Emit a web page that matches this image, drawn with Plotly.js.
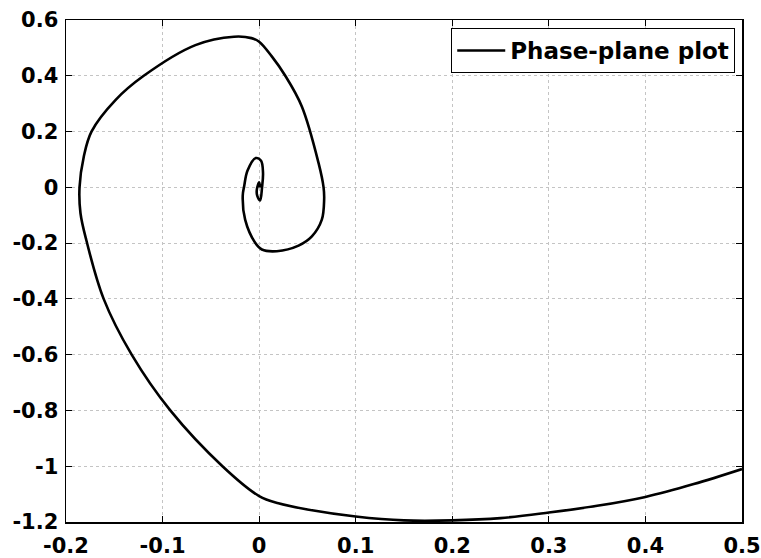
<!DOCTYPE html>
<html>
<head>
<meta charset="utf-8">
<script src="https://cdn.plot.ly/plotly-3.0.1.min.js"></script>
<style>html,body{margin:0;padding:0;background:#fff;}#chart{width:761px;height:558px;}</style>
</head>
<body>
<div id="chart"></div>
<script>
// Phase-plane trajectory
const phaseX = [0.5, 0.45, 0.4, 0.35, 0.3, 0.25, 0.2, 0.15, 0.1, 0.05, 0.02, 0.0, -0.038, -0.092, -0.132, -0.161, -0.179, -0.185, -0.186, -0.1816, -0.1736, -0.1488, -0.1195, -0.066, -0.026, -0.008, 0.0, 0.0131, 0.0269, 0.0442, 0.0615, 0.0667, 0.0673, 0.0649, 0.0546, 0.0408, 0.0183, 0.0028, -0.0041, -0.0145, -0.017, -0.0155, -0.012, -0.0034, 0.002, 0.004, 0.003, 0.001, -0.002, -0.0024, 0.0, 0.001];
const phaseY = [-1.01, -1.064, -1.11, -1.142, -1.166, -1.186, -1.194, -1.194, -1.18, -1.155, -1.133, -1.107, -1.0, -0.8, -0.6, -0.4, -0.189, -0.093, 0.0, 0.110, 0.2, 0.313, 0.4, 0.510, 0.540, 0.535, 0.522, 0.4695, 0.401, 0.290, 0.0875, 0.0, -0.044, -0.116, -0.176, -0.209, -0.229, -0.223, -0.199, -0.116, -0.03, 0.004, 0.06, 0.105, 0.095, 0.052, 0.0, -0.047, -0.03, -0.008, 0.018, 0.0];
const seriesName = "Phase-plane plot";

const xTickVals = [-0.2, -0.1, 0, 0.1, 0.2, 0.3, 0.4, 0.5];
const xTickText = ["-0.2", "-0.1", "0", "0.1", "0.2", "0.3", "0.4", "0.5"];
const yTickVals = [-1.2, -1, -0.8, -0.6, -0.4, -0.2, 0, 0.2, 0.4, 0.6];
const yTickText = ["-1.2", "-1", "-0.8", "-0.6", "-0.4", "-0.2", "0", "0.2", "0.4", "0.6"];

const tickFont = {family: "DejaVu Sans", size: 21, color: "#000", weight: "bold"};

const axisCommon = {
  showline: true, linecolor: "#000", linewidth: 1.5, mirror: "ticks",
  ticks: "inside", ticklen: 6, tickwidth: 1.2, tickcolor: "#000",
  showgrid: true, gridcolor: "#c4c4c4", griddash: "dot", gridwidth: 1,
  zeroline: false, tickfont: tickFont, tickmode: "array"
};

const trace = {
  x: phaseX, y: phaseY, type: "scatter", mode: "lines", name: seriesName,
  line: {color: "#000", width: 2.6, shape: "spline", smoothing: 1}
};

const layout = {
  width: 761, height: 558,
  margin: {l: 66, r: 19, t: 20, b: 36},
  paper_bgcolor: "#fff", plot_bgcolor: "#fff",
  showlegend: true,
  xaxis: Object.assign({}, axisCommon, {range: [-0.2, 0.5], tickvals: xTickVals, ticktext: xTickText, ticklabelstandoff: 4}),
  yaxis: Object.assign({}, axisCommon, {range: [-1.2, 0.6], tickvals: yTickVals, ticktext: yTickText, ticklabelstandoff: 2}),
  legend: {
    x: 0.99, y: 0.984, xanchor: "right", yanchor: "top",
    bgcolor: "#fff", bordercolor: "#000", borderwidth: 1,
    font: {family: "DejaVu Sans", size: 23, color: "#000", weight: "bold"},
    itemwidth: 48
  }
};

Plotly.newPlot("chart", [trace], layout, {staticPlot: true, displayModeBar: false});
</script>
</body>
</html>
